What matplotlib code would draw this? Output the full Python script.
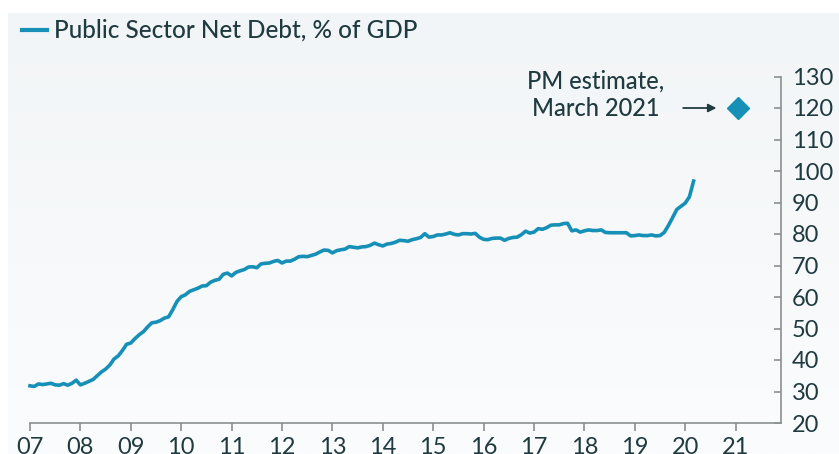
import numpy as np
import matplotlib
matplotlib.use("Agg")
import matplotlib.pyplot as plt

# Public sector net debt, % of GDP, monthly from Jan 2007
debt_2007 = [31.8, 31.6, 32.4, 32.2, 32.4, 32.6, 32.1, 32.0, 32.5, 32.0, 32.6, 33.6]
debt_2008 = [32.1, 32.6, 33.2, 33.8, 35.0, 36.2, 37.1, 38.4, 40.3, 41.3, 43.0, 45.0]
debt_2009 = [45.4, 46.8, 48.0, 49.0, 50.5, 51.8, 52.0, 52.5, 53.3, 53.7, 56.0, 58.6]
debt_2010 = [60.1, 60.7, 61.8, 62.3, 62.8, 63.5, 63.6, 64.7, 65.3, 65.6, 67.2, 67.6]
debt_2011 = [66.7, 67.8, 68.3, 68.7, 69.5, 69.6, 69.3, 70.5, 70.7, 70.8, 71.3, 71.6]
debt_2012 = [70.8, 71.4, 71.4, 72.0, 72.8, 72.9, 72.8, 73.2, 73.6, 74.3, 74.9, 74.8]
debt_2013 = [74.0, 74.7, 75.0, 75.2, 76.0, 75.8, 75.6, 75.9, 76.0, 76.4, 77.1, 76.6]
debt_2014 = [76.2, 76.8, 77.0, 77.4, 78.0, 77.9, 77.7, 78.2, 78.5, 78.9, 80.1, 79.0]
debt_2015 = [79.2, 79.7, 79.7, 80.0, 80.4, 79.9, 79.7, 80.1, 80.1, 80.0, 80.2, 79.0]
debt_2016 = [78.3, 78.2, 78.6, 78.7, 78.7, 78.0, 78.6, 78.9, 79.0, 79.8, 80.9, 80.3]
debt_2017 = [80.6, 81.7, 81.5, 82.0, 82.8, 82.9, 82.9, 83.3, 83.4, 81.0, 81.3, 80.6]
debt_2018 = [81.0, 81.3, 81.1, 81.1, 81.3, 80.5, 80.4, 80.4, 80.4, 80.4, 80.4, 79.4]
debt_2019 = [79.5, 79.7, 79.5, 79.5, 79.7, 79.4, 79.5, 80.5, 82.7, 85.2, 87.8, 88.8]
debt_2020 = [89.8, 91.8, 96.8]

pm_estimate_x = 2021.05
pm_estimate_y = 120

year_ticks = list(range(2007, 2022))
year_labels = [f"{y % 100:02d}" for y in year_ticks]
pct_ticks = list(range(20, 131, 10))

debt = (debt_2007 + debt_2008 + debt_2009 + debt_2010 + debt_2011 + debt_2012
        + debt_2013 + debt_2014 + debt_2015 + debt_2016 + debt_2017 + debt_2018
        + debt_2019 + debt_2020)
months = 2007 + np.arange(len(debt)) / 12

LINE = "#1690b6"
INK = "#1f3b40"
AXIS = "#8a8f92"

plt.rcParams["font.family"] = ["Lato", "DejaVu Sans"]

W, H = 839, 454
fig = plt.figure(figsize=(W / 100, H / 100), dpi=100, facecolor="white")

# soft panel behind the chart
bg = fig.add_axes([8 / W, 0, 1 - 8 / W, 1 - 13 / H], zorder=-5)
grad = np.linspace(0, 1, 256).reshape(-1, 1)
bg.imshow(grad, aspect="auto", extent=[0, 1, 0, 1], origin="upper",
          cmap=matplotlib.colors.LinearSegmentedColormap.from_list(
              "panel", ["#f2f5f7", "#fbfcfd"]))
bg.axis("off")

ax = fig.add_axes([30 / W, 1 - 423 / H, (781 - 30) / W, (423 - 76.5) / H])
ax.patch.set_alpha(0)

ax.plot(months, debt, color=LINE, lw=2.6, solid_joinstyle="round", clip_on=False)
ax.plot([pm_estimate_x], [pm_estimate_y], marker="D", ms=11, color=LINE,
        ls="none", clip_on=False)

ax.annotate("", xy=(2020.62, pm_estimate_y), xytext=(2019.96, pm_estimate_y),
            arrowprops=dict(arrowstyle="-|>", color=INK, lw=1.3,
                            mutation_scale=12, shrinkA=0, shrinkB=0))
ax.text(2019.58, 124.2, "PM estimate,\nMarch 2021", ha="right", va="center",
        multialignment="center", fontsize=17, fontweight="medium",
        color=INK, linespacing=1.2)

ax.set_xlim(2007, 2007 + (781 - 30) / 50.4)
ax.set_ylim(20, 130)

for side in ("left", "top"):
    ax.spines[side].set_visible(False)
for side in ("right", "bottom"):
    ax.spines[side].set_color(AXIS)
    ax.spines[side].set_linewidth(1.2)

ax.set_xticks(year_ticks)
ax.set_xticklabels(year_labels)
ax.set_yticks(pct_ticks)
ax.set_yticklabels([str(t) for t in pct_ticks])
ax.yaxis.tick_right()
ax.tick_params(axis="x", direction="out", length=6, width=1.2, color=AXIS,
               labelsize=17, labelcolor=INK, pad=4)
ax.tick_params(axis="y", direction="in", length=5, width=1.2, color=AXIS,
               labelsize=17, labelcolor=INK, pad=8)

# legend key drawn in figure space
fig.lines.append(plt.Line2D([22 / W, 47 / W], [1 - 30 / H, 1 - 30 / H],
                            transform=fig.transFigure, color=LINE, lw=3))
fig.text(54 / W, 1 - 30 / H, "Public Sector Net Debt, % of GDP", ha="left",
         va="center", fontsize=17.5, fontweight="medium", color=INK)

fig.savefig("out.png", dpi=100, facecolor="white")
